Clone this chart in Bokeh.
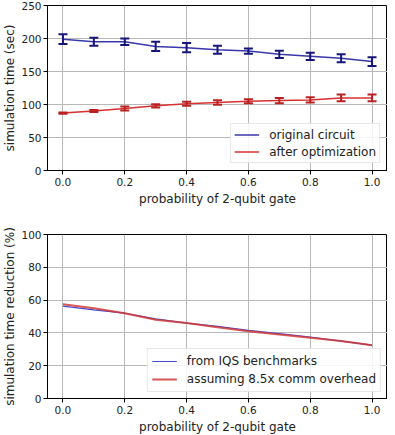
import numpy as np
from bokeh.plotting import figure
from bokeh.layouts import column
from bokeh.models import Legend, LegendItem, FixedTicker, ColumnDataSource
from bokeh.embed import file_html
from bokeh.resources import INLINE

# ---- data ----
prob = [0.0, 0.1, 0.2, 0.3, 0.4, 0.5, 0.6, 0.7, 0.8, 0.9, 1.0]
orig_time = [199, 195, 195, 188, 186, 183, 181, 176, 173, 170, 165]
orig_err = [7.5, 6, 5, 7, 7, 6, 4, 5.5, 5.5, 6, 6.5]
opt_time = [87, 90, 94, 98, 101, 103, 105, 106, 107, 110, 110]
opt_err = [1, 1.5, 3, 2.5, 3, 3.5, 3, 4, 4, 5, 5]
red_iqs = [56.3, 54, 52, 48.5, 46, 44, 41.5, 39.5, 37.5, 35, 32.5]
red_comm = [57.5, 55, 52, 48, 46, 43.5, 41, 39, 37, 35, 32.5]
x_ticks = [0.0, 0.2, 0.4, 0.6, 0.8, 1.0]
y1_ticks = [0, 50, 100, 150, 200, 250]
y2_ticks = [0, 20, 40, 60, 80, 100]

FONT = "DejaVu Sans"
BLUE_L = "#3838a8"
BLUE_E = "#16167a"
RED_L = "#d83030"
RED_E = "#b82222"


def style(p, yticks):
    p.xaxis.ticker = FixedTicker(ticks=x_ticks)
    p.yaxis.ticker = FixedTicker(ticks=yticks)
    p.xaxis.major_label_overrides = {t: f"{t:.1f}" for t in x_ticks}
    for ax in (p.xaxis[0], p.yaxis[0]):
        ax.major_label_text_font = FONT
        ax.major_label_text_font_size = "10.5px"
        ax.major_label_text_color = "#222222"
        ax.axis_label_text_font = FONT
        ax.axis_label_text_font_size = "12px"
        ax.axis_label_text_font_style = "normal"
        ax.axis_label_text_color = "#222222"
        ax.minor_tick_line_color = None
        ax.major_tick_out = 4
        ax.major_tick_in = 0
        ax.axis_line_color = "black"
        ax.major_tick_line_color = "black"
        ax.axis_label_standoff = 1
        ax.major_label_standoff = 2
    p.xaxis.axis_label_standoff = 3
    p.xaxis.major_label_standoff = 3
    p.xgrid.grid_line_color = "#b8b8b8"
    p.ygrid.grid_line_color = "#b8b8b8"
    p.outline_line_color = "black"
    p.outline_line_alpha = 1.0
    p.background_fill_color = "white"
    p.border_fill_color = "white"


def style_legend(leg, margin, label_h, spacing, padding):
    leg.label_text_font = FONT
    leg.label_text_font_size = "12px"
    leg.label_text_color = "#222222"
    leg.border_line_color = "#d0d0d0"
    leg.background_fill_alpha = 0.85
    leg.glyph_width = 25
    leg.glyph_height = label_h
    leg.label_height = label_h
    leg.spacing = spacing
    leg.padding = padding
    leg.margin = margin
    leg.label_standoff = 10


# ---- top figure ----
p1 = figure(frame_width=340, frame_height=165, output_backend="svg", toolbar_location=None,
            x_range=(-0.05, 1.05), y_range=(0, 250),
            min_border_left=40, min_border_right=0, min_border_top=5,
            min_border_bottom=46,
            x_axis_label="probability of 2-qubit gate",
            y_axis_label="simulation time (sec)")
style(p1, y1_ticks)

po = np.array(prob)
ot = np.array(orig_time); oe = np.array(orig_err)
at = np.array(opt_time); ae = np.array(opt_err)

l_orig = p1.line(prob, orig_time, line_color=BLUE_L, line_width=1.5)
p1.segment(x0=prob, y0=list(ot - oe), x1=prob, y1=list(ot + oe),
           line_color=BLUE_E, line_width=2)
p1.scatter(list(po) * 2, list(ot - oe) + list(ot + oe), marker="dash", size=9,
           line_color=BLUE_E, line_width=2)
l_opt = p1.line(prob, opt_time, line_color=RED_L, line_width=1.5)
p1.segment(x0=prob, y0=list(at - ae), x1=prob, y1=list(at + ae),
           line_color=RED_E, line_width=2)
p1.scatter(list(po) * 2, list(at - ae) + list(at + ae), marker="dash", size=9,
           line_color=RED_E, line_width=2)

# legend proxies (vertical error-bar glyph)
v_orig = p1.scatter("x", "y", source=ColumnDataSource(data=dict(x=[], y=[])),
                    marker="dash", angle=np.pi / 2, size=14,
                    line_color=BLUE_E, line_width=2)
v_opt = p1.scatter("x", "y", source=ColumnDataSource(data=dict(x=[], y=[])),
                   marker="dash", angle=np.pi / 2, size=14,
                   line_color=RED_E, line_width=1.2)

leg1 = Legend(items=[LegendItem(label="original circuit", renderers=[l_orig, v_orig]),
                     LegendItem(label="after optimization", renderers=[l_opt, v_opt])],
              location="bottom_right")
style_legend(leg1, margin=7, label_h=15, spacing=2, padding=3)
p1.add_layout(leg1)

# ---- bottom figure ----
p2 = figure(frame_width=340, frame_height=164, output_backend="svg", toolbar_location=None,
            x_range=(-0.05, 1.05), y_range=(0, 100),
            min_border_left=40, min_border_right=0, min_border_top=18,
            min_border_bottom=35,
            x_axis_label="probability of 2-qubit gate",
            y_axis_label="simulation time reduction (%)")
style(p2, y2_ticks)

l_iqs = p2.line(prob, red_iqs, line_color="#4848cc", line_width=1.2)
l_comm = p2.line(prob, red_comm, line_color="#d03838", line_width=2, line_alpha=0.85)

leg2 = Legend(items=[LegendItem(label="from IQS benchmarks", renderers=[l_iqs]),
                     LegendItem(label="assuming 8.5x comm overhead", renderers=[l_comm])],
              location="bottom_right")
style_legend(leg2, margin=6, label_h=16, spacing=2, padding=4)
p2.add_layout(leg2)

layout = column(p1, p2, spacing=0)
open("out.html", "w").write(file_html(layout, INLINE))
